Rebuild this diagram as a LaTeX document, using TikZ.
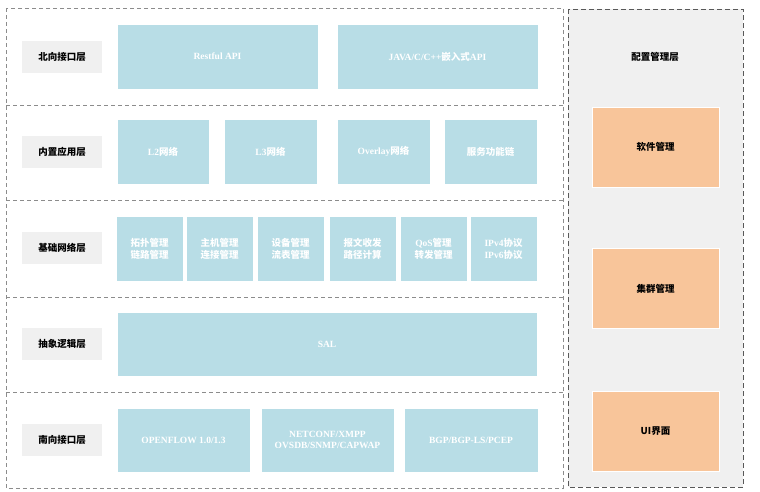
\documentclass[tikz,border=0pt]{standalone}
\usepackage{fontspec}
\setmainfont{Liberation Serif}
\newfontfamily\cjk{Noto Sans CJK SC}
\definecolor{lblue}{HTML}{B8DDE6}
\definecolor{lgray}{HTML}{F0F0F0}
\definecolor{lorange}{HTML}{F8C59A}
\definecolor{dgray}{HTML}{8C8C8C}

\begin{document}
\begin{tikzpicture}[x=1pt, y=-1pt, draw=dgray,
  rowbox/.style={draw=dgray, line width=0.6pt, dash pattern=on 4pt off 3pt},
  layerbox/.style={fill=lgray, minimum width=80, minimum height=32, font=\cjk\bfseries\fontsize{9.5}{11}\selectfont},
  blk/.style={fill=lblue, draw=white, line width=0.8pt, text=white, align=center, font=\bfseries\fontsize{9.5}{11.5}\selectfont},
  cfgbox/.style={fill=lorange, draw=white, line width=0.8pt, minimum width=127, minimum height=80, font=\cjk\bfseries\fontsize{9.5}{11}\selectfont}]
\useasboundingbox (0,0) rectangle (760,491);

% layer rows
\draw [rowbox] (6,8) rectangle (563,488);
\foreach \y in {105,200,297,392}
  \draw [rowbox] (6,\y) -- (563,\y);
\draw [fill=lgray, draw=black!65, line width=1pt, dash pattern=on 5pt off 3pt] (568,9) rectangle (743,487);

\node[layerbox] (north) at (62,57) {北向接口层};
\node[blk, minimum width=201, minimum height=65] (rest) at (217.5,56.5) {Restful API};
\node[blk, minimum width=201, minimum height=65] (java) at (437.5,56.5) {JAVA/C/C++{\cjk 嵌入式}API};

\node[layerbox] (app) at (62,152) {内置应用层};
\node[blk, minimum width=92, minimum height=65] (ltwo) at (163,151.5) {L2{\cjk 网络}};
\node[blk, minimum width=93, minimum height=65] (lthree) at (270.5,151.5) {L3{\cjk 网络}};
\node[blk, minimum width=93, minimum height=65] (overlay) at (383.5,151.5) {Overlay{\cjk 网络}};
\node[blk, minimum width=93, minimum height=65, font=\cjk\bfseries\fontsize{9.5}{11.5}\selectfont] (sfc) at (490.5,151.5) {服务功能链};

\node[layerbox] (base) at (62,248) {基础网络层};
\node[blk, minimum width=67, minimum height=65, font=\cjk\bfseries\fontsize{9.5}{12}\selectfont] (topo) at (149.5,248.5) {拓扑管理\\链路管理};
\node[blk, minimum width=67, minimum height=65, font=\cjk\bfseries\fontsize{9.5}{12}\selectfont] (host) at (219.5,248.5) {主机管理\\连接管理};
\node[blk, minimum width=67, minimum height=65, font=\cjk\bfseries\fontsize{9.5}{12}\selectfont] (dev) at (290.5,248.5) {设备管理\\流表管理};
\node[blk, minimum width=67, minimum height=65, font=\cjk\bfseries\fontsize{9.5}{12}\selectfont] (pkt) at (362.5,248.5) {报文收发\\路径计算};
\node[blk, minimum width=67, minimum height=65, font=\bfseries\fontsize{9.5}{12}\selectfont] (qos) at (433.5,248.5) {QoS{\cjk 管理}\\{\cjk 转发管理}};
\node[blk, minimum width=67, minimum height=65, font=\bfseries\fontsize{9.5}{12}\selectfont] (ipv) at (503.5,248.5) {IPv4{\cjk 协议}\\IPv6{\cjk 协议}};

\node[layerbox] (abs) at (62,344) {抽象逻辑层};
\node[blk, minimum width=420, minimum height=64] (sal) at (327,344) {SAL};

\node[layerbox] (south) at (62,440) {南向接口层};
\node[blk, minimum width=133, minimum height=64] (of) at (183.5,440) {OPENFLOW 1.0/1.3};
\node[blk, minimum width=133, minimum height=64, font=\bfseries\fontsize{9.5}{11}\selectfont] (netconf) at (327.5,440) {NETCONF/XMPP\\OVSDB/SNMP/CAPWAP};
\node[blk, minimum width=134, minimum height=64] (bgp) at (471,440) {BGP/BGP-LS/PCEP};

% config column
\node[font=\cjk\bfseries\fontsize{9.5}{11}\selectfont] (cfg) at (655,57) {配置管理层};
\node[cfgbox] (soft) at (655.5,147) {软件管理};
\node[cfgbox] (cluster) at (655.5,288.5) {集群管理};
\node[cfgbox] (ui) at (655.5,431.5) {UI{\cjk 界面}};
\end{tikzpicture}
\end{document}
